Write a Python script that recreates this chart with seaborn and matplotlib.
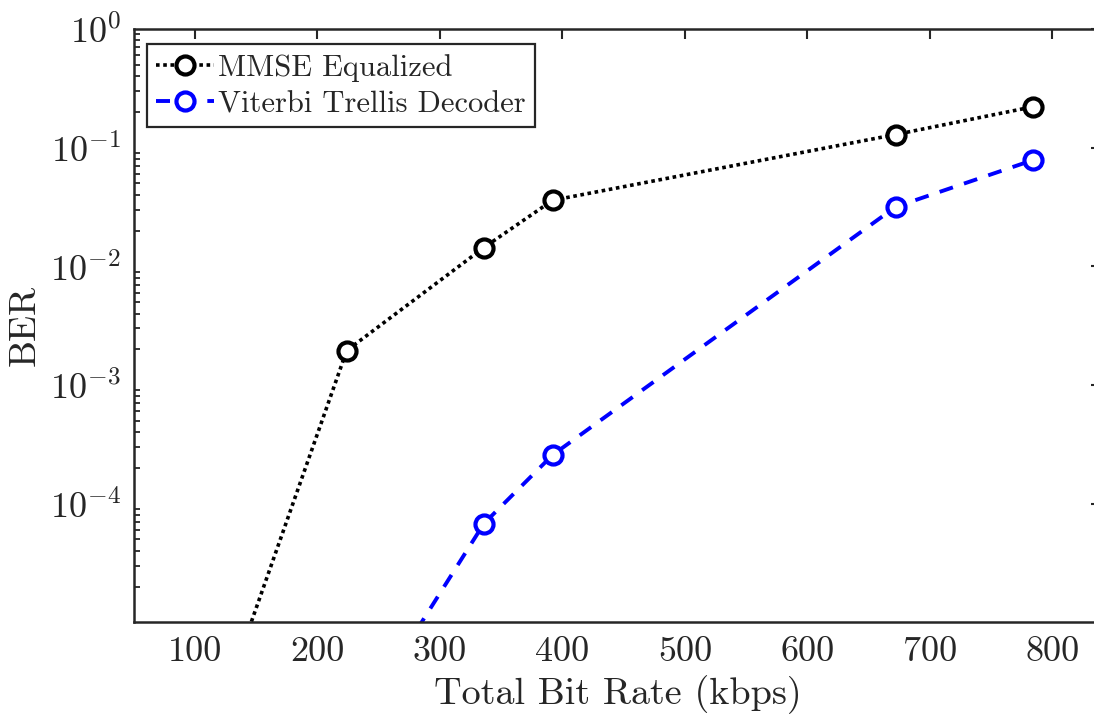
import numpy as np
import pandas as pd
import matplotlib
matplotlib.use("Agg")
import matplotlib.pyplot as plt
import matplotlib.ticker as mticker
import seaborn as sns

# ---- data ----
bit_rate_mmse = [112, 224, 336, 392, 672, 784]
ber_mmse = [1.0e-6, 1.95e-3, 1.44e-2, 3.6e-2, 1.29e-1, 2.21e-1]
bit_rate_vit = [224, 336, 392, 672, 784]
ber_vit = [1.0e-6, 6.8e-5, 2.57e-4, 3.17e-2, 7.85e-2]
label_mmse = "MMSE Equalized"
label_vit = "Viterbi Trellis Decoder"
xlabel = "Total Bit Rate (kbps)"
ylabel = "BER"
xticks = [100, 200, 300, 400, 500, 600, 700, 800]
yticks = [1e-4, 1e-3, 1e-2, 1e-1, 1e0]

sns.set_style("white")
plt.rcParams["font.family"] = "serif"
plt.rcParams["font.serif"] = ["cmr10", "DejaVu Serif"]
plt.rcParams["mathtext.fontset"] = "cm"
plt.rcParams["axes.formatter.use_mathtext"] = True
plt.rcParams["axes.unicode_minus"] = True

dark = (0.15, 0.15, 0.15)

fig = plt.figure(figsize=(10.94, 7.16), dpi=100)
ax = fig.add_axes([133.5 / 1094, 1 - 622.3 / 716, (1101.5 - 133.5) / 1094, (622.3 - 29) / 716])

df_m = pd.DataFrame({"x": bit_rate_mmse, "y": ber_mmse})
df_v = pd.DataFrame({"x": bit_rate_vit, "y": ber_vit})

sns.lineplot(data=df_m, x="x", y="y", ax=ax, color="black", linestyle=(0, (1, 1.0)),
             linewidth=2.6, marker="o", markersize=13, markeredgewidth=3,
             markerfacecolor="white", markeredgecolor="black", label=label_mmse)
sns.lineplot(data=df_v, x="x", y="y", ax=ax, color=(0, 0, 1), linestyle=(0, (3.6, 3.0)),
             linewidth=2.8, marker="o", markersize=13, markeredgewidth=3,
             markerfacecolor="white", markeredgecolor=(0, 0, 1), label=label_vit)

ax.set_yscale("log")
ax.set_xlim(50, 840)
ax.set_ylim(1e-5, 1e0)
ax.set_xticks(xticks)
ax.set_xticklabels([str(t) for t in xticks])
ax.yaxis.set_major_locator(mticker.FixedLocator(yticks))
ax.yaxis.set_major_formatter(mticker.LogFormatterSciNotation())
ax.yaxis.set_minor_locator(mticker.LogLocator(base=10, subs=np.arange(2, 10), numticks=20))
ax.yaxis.set_minor_formatter(mticker.NullFormatter())
ax.xaxis.set_minor_locator(mticker.NullLocator())

ax.tick_params(axis="both", which="major", direction="in", length=7.5, width=1.5,
               top=True, right=True, colors=dark, labelsize=26, pad=9)
ax.tick_params(axis="x", which="major", pad=10)
ax.tick_params(axis="y", which="minor", direction="in", length=4, width=1.3,
               left=True, right=True, colors=dark)
for s in ax.spines.values():
    s.set_color(dark)
    s.set_linewidth(1.8)

ax.set_xlabel(xlabel, fontsize=27.5, color=dark, labelpad=5)
ax.set_ylabel(ylabel, fontsize=27.5, color=dark, labelpad=6)

leg = ax.legend(loc="upper left", bbox_to_anchor=(0.0136, 0.974), borderaxespad=0,
                fontsize=22, frameon=True, fancybox=False, framealpha=1,
                edgecolor=dark, handlelength=1.9, handletextpad=0.15,
                borderpad=0.3, labelspacing=0.3)
leg.get_frame().set_linewidth(1.6)

fig.savefig("out.png", dpi=100)
